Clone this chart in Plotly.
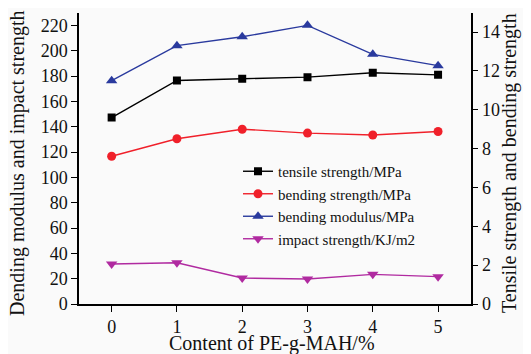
import plotly.graph_objects as go

content = [0, 1, 2, 3, 4, 5]
tensile_strength = [9.60, 11.51, 11.60, 11.68, 11.91, 11.80]
bending_strength = [7.61, 8.51, 9.00, 8.80, 8.70, 8.88]
bending_modulus = [176.3, 204.0, 211.0, 220.0, 197.1, 188.2]
impact_strength = [31.6, 32.6, 20.5, 19.7, 23.4, 21.6]

left_ticks = list(range(0, 221, 20))
right_ticks = list(range(0, 15, 2))

x_title = "Content of PE-g-MAH/%"
left_title = "Dending modulus and impact strength"
right_title = "Tensile strength and bending strength"

FONT = "Liberation Serif, Times New Roman, serif"
W, H = 531, 354
OFF = 8  # page body offset

def px_x(v):
    return (v - OFF) / W

def px_y(v):
    return 1 - (v - OFF) / H

fig = go.Figure()
fig.add_trace(go.Scatter(x=content, y=tensile_strength, name="tensile strength/MPa",
                         yaxis="y2", mode="lines+markers",
                         line=dict(color="#000000", width=1.4),
                         marker=dict(symbol="square", size=8, color="#000000")))
fig.add_trace(go.Scatter(x=content, y=bending_strength, name="bending strength/MPa",
                         yaxis="y2", mode="lines+markers",
                         line=dict(color="#f0202a", width=1.4),
                         marker=dict(symbol="circle", size=9, color="#f0202a")))
fig.add_trace(go.Scatter(x=content, y=bending_modulus, name="bending modulus/MPa",
                         yaxis="y", mode="lines+markers",
                         line=dict(color="#2a3a9e", width=1.4),
                         marker=dict(symbol="triangle-up", size=10, color="#2a3a9e")))
fig.add_trace(go.Scatter(x=content, y=impact_strength, name="impact strength/KJ/m2",
                         yaxis="y", mode="lines+markers",
                         line=dict(color="#b02aa0", width=1.4),
                         marker=dict(symbol="triangle-down", size=10, color="#b02aa0")))

tick_font = dict(family=FONT, size=18, color="#111111")

axis_common = dict(showline=True, linecolor="#000", linewidth=1.5, ticks="outside",
                   ticklen=6, tickwidth=1.2, tickcolor="#000", showgrid=False,
                   zeroline=False, tickfont=tick_font)

fig.update_layout(
    width=W, height=H, autosize=False,
    margin=dict(l=0, r=0, t=0, b=0, pad=0, autoexpand=False),
    paper_bgcolor="#fafafa", plot_bgcolor="#fafafa",
    font=dict(family=FONT, size=18, color="#111111"),
    showlegend=True,
    legend=dict(x=px_x(238), y=px_y(155), xanchor="left", yanchor="top",
                bgcolor="rgba(0,0,0,0)", font=dict(size=15, family=FONT, color="#111111"),
                tracegroupgap=0, itemwidth=30, borderwidth=0),
    xaxis=dict(domain=[px_x(79), px_x(470.7)], range=[-0.5, 5.5], tickvals=content,
               ticktext=[str(c) for c in content], **axis_common),
    yaxis=dict(domain=[px_y(304), px_y(12.7)], range=[0, 230], tickvals=left_ticks,
               **axis_common),
    yaxis2=dict(range=[0, 15], tickvals=right_ticks, overlaying="y", side="right",
                anchor="x", **axis_common),
    annotations=[
        dict(text=x_title, xref="paper", yref="paper", x=px_x(272), y=px_y(343),
             xanchor="center", yanchor="middle", showarrow=False,
             font=dict(family=FONT, size=20, color="#111111")),
        dict(text=left_title, xref="paper", yref="paper", x=px_x(17), y=px_y(163),
             xanchor="center", yanchor="middle", showarrow=False, textangle=-90,
             font=dict(family=FONT, size=20, color="#111111")),
        dict(text=right_title, xref="paper", yref="paper", x=px_x(509), y=px_y(163),
             xanchor="center", yanchor="middle", showarrow=False, textangle=-90,
             font=dict(family=FONT, size=20, color="#111111")),
    ],
)

fig.write_html("out.html")
